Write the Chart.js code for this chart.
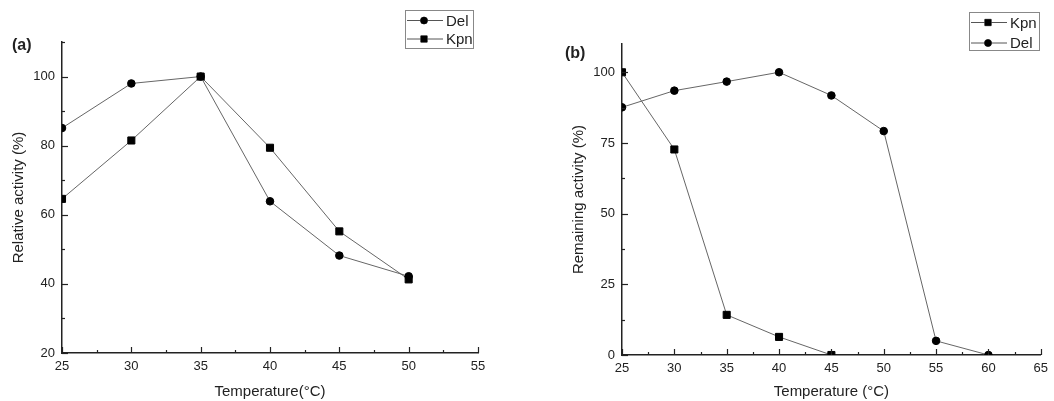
<!DOCTYPE html>
<html>
<head>
<meta charset="utf-8">
<script src="https://cdn.jsdelivr.net/npm/chart.js@4.4.1/dist/chart.umd.min.js"></script>
<style>
  body { margin: 0; background: #fff; }
  .panel { position: absolute; top: 0; width: 527px; height: 401px; }
</style>
</head>
<body>
<div class="panel" style="left:0"><canvas id="chartA"></canvas></div>
<div class="panel" style="left:527px"><canvas id="chartB"></canvas></div>
<script>
// panel (a) - relative activity vs temperature
const tempA = [25, 30, 35, 40, 45, 50];
const delA = [85.1, 98, 100, 63.9, 48.2, 42.2];
const kpnA = [64.6, 81.5, 100, 79.4, 55.2, 41.3];

// panel (b) - remaining activity vs temperature
const tempKpnB = [25, 30, 35, 40, 45];
const kpnB = [100, 72.7, 14.2, 6.4, 0];
const tempDelB = [25, 30, 35, 40, 45, 50, 55, 60];
const delB = [87.6, 93.5, 96.7, 100, 91.8, 79.2, 5, 0];

const FONT = "'Liberation Sans', Arial, sans-serif";
const INK = '#222';

function pts(xs, ys) {
    return xs.map((x, i) => ({ x: x, y: ys[i] }));
}

function series(label, data, style) {
    return {
        label, data,
        borderColor: '#666', borderWidth: 1,
        pointStyle: style,
        pointRadius: style === 'rect' ? 5 : 3.8,
        pointBackgroundColor: '#000', pointBorderColor: '#000', pointBorderWidth: 1
    };
}

//inward tick marks, long on labelled values, short in between
const inwardTicks = {
    id: 'inwardTicks',
    afterDraw(chart, args, opts) {
        const ctx = chart.ctx;
        const { x, y } = chart.scales;
        ctx.save();
        ctx.strokeStyle = INK;
        ctx.lineWidth = 1.2;
        x.ticks.forEach(t => {
            if (Math.abs(t.value / opts.xStep - Math.round(t.value / opts.xStep)) > 1e-6) return;
            const major = t.value % opts.xMajor === 0;
            const px = Math.round(x.getPixelForValue(t.value)) + 0.5;
            ctx.beginPath();
            ctx.moveTo(px, x.top);
            ctx.lineTo(px, x.top - (major ? 6 : 3));
            ctx.stroke();
        });
        y.ticks.forEach(t => {
            if (Math.abs(t.value / opts.yStep - Math.round(t.value / opts.yStep)) > 1e-6) return;
            const major = t.value % opts.yMajor === 0;
            const py = Math.round(y.getPixelForValue(t.value)) + 0.5;
            ctx.beginPath();
            ctx.moveTo(y.right, py);
            ctx.lineTo(y.right + (major ? 6 : 3), py);
            ctx.stroke();
        });
        ctx.restore();
    }
};

//boxed legend + panel letter
const boxLegend = {
    id: 'boxLegend',
    afterDraw(chart, args, opts) {
        const ctx = chart.ctx;
        ctx.save();
        ctx.strokeStyle = '#888';
        ctx.lineWidth = 1;
        ctx.strokeRect(opts.x + 0.5, opts.y + 0.5, opts.w, opts.h);
        opts.order.forEach((di, i) => {
            const ds = chart.data.datasets[di];
            const cy = opts.y + opts.rowY[i];
            ctx.strokeStyle = '#555';
            ctx.beginPath();
            ctx.moveTo(opts.x + 2, cy);
            ctx.lineTo(opts.x + 38, cy);
            ctx.stroke();
            Chart.helpers.drawPoint(ctx, {
                pointStyle: ds.pointStyle, radius: ds.pointStyle === 'rect' ? 4.5 : 3.5,
                borderWidth: 1
            }, opts.x + 19, cy);
            ctx.fillStyle = '#000';
            ctx.fill();
            ctx.fillStyle = INK;
            ctx.font = '15px ' + FONT;
            ctx.textBaseline = 'middle';
            ctx.fillText(ds.label, opts.x + 41, cy + 1);
        });
        ctx.font = 'bold 16px ' + FONT;
        ctx.fillStyle = INK;
        ctx.textBaseline = 'middle';
        ctx.fillText(opts.letter, opts.letterX, opts.letterY);
        ctx.restore();
    }
};

Chart.defaults.font.family = FONT;
Chart.defaults.color = INK;

function makeChart(canvas, cfg) {
    return new Chart(canvas, {
        type: 'line',
        data: { datasets: cfg.datasets },
        options: {
            responsive: true,
            maintainAspectRatio: false,
            animation: false,
            layout: { padding: { top: cfg.top, right: cfg.right, left: 0, bottom: 0 } },
            scales: {
                x: {
                    type: 'linear', min: cfg.xMin, max: cfg.xMax,
                    afterFit: s => { s.height = cfg.xHeight; },
                    grid: { display: false, drawTicks: false },
                    border: { color: INK, width: 1.5 },
                    ticks: {
                        stepSize: 2.5, padding: 6, maxRotation: 0, autoSkip: false,
                        font: { size: 13 },
                        callback: v => v % 5 === 0 ? v : ''
                    },
                    title: {
                        display: true, text: cfg.xTitle,
                        font: { size: 15 }, padding: { top: 0, bottom: 0 }
                    }
                },
                y: {
                    min: cfg.yMin, max: 110,
                    afterFit: s => { s.width = cfg.yWidth; },
                    grid: { display: false, drawTicks: false },
                    border: { color: INK, width: 1.5 },
                    ticks: {
                        stepSize: cfg.yStep, padding: 7, autoSkip: false,
                        font: { size: 13 },
                        callback: v => v % cfg.yMajor === 0 ? v : ''
                    },
                    title: {
                        display: true, text: cfg.yTitle,
                        font: { size: 15 }, padding: { top: cfg.yTitlePad, bottom: 0 }
                    }
                }
            },
            plugins: {
                legend: { display: false },
                tooltip: { enabled: false },
                inwardTicks: { xStep: 2.5, xMajor: 5, yStep: cfg.yStep, yMajor: cfg.yMajor },
                boxLegend: cfg.legend
            }
        },
        plugins: [inwardTicks, boxLegend]
    });
}

makeChart(document.getElementById('chartA'), {
    datasets: [series('Del', pts(tempA, delA), 'circle'), series('Kpn', pts(tempA, kpnA), 'rect')],
    top: 42, right: 49, xHeight: 48, yWidth: 62,
    xMin: 25, xMax: 55, yMin: 20, yStep: 10, yMajor: 20,
    xTitle: 'Temperature(°C)', yTitle: 'Relative activity (%)', yTitlePad: 10,
    legend: { x: 405, y: 10, w: 68, h: 38, rowY: [10.5, 29], order: [0, 1], letter: '(a)', letterX: 12, letterY: 46 }
});

makeChart(document.getElementById('chartB'), {
    datasets: [series('Kpn', pts(tempKpnB, kpnB), 'rect'), series('Del', pts(tempDelB, delB), 'circle')],
    top: 44, right: 12, xHeight: 46, yWidth: 95,
    xMin: 25, xMax: 65, yMin: 0, yStep: 12.5, yMajor: 25,
    xTitle: 'Temperature (°C)', yTitle: 'Remaining activity (%)', yTitlePad: 43,
    legend: { x: 442, y: 12, w: 70, h: 38, rowY: [10.5, 31], order: [0, 1], letter: '(b)', letterX: 38, letterY: 54 }
});
</script>
</body>
</html>
